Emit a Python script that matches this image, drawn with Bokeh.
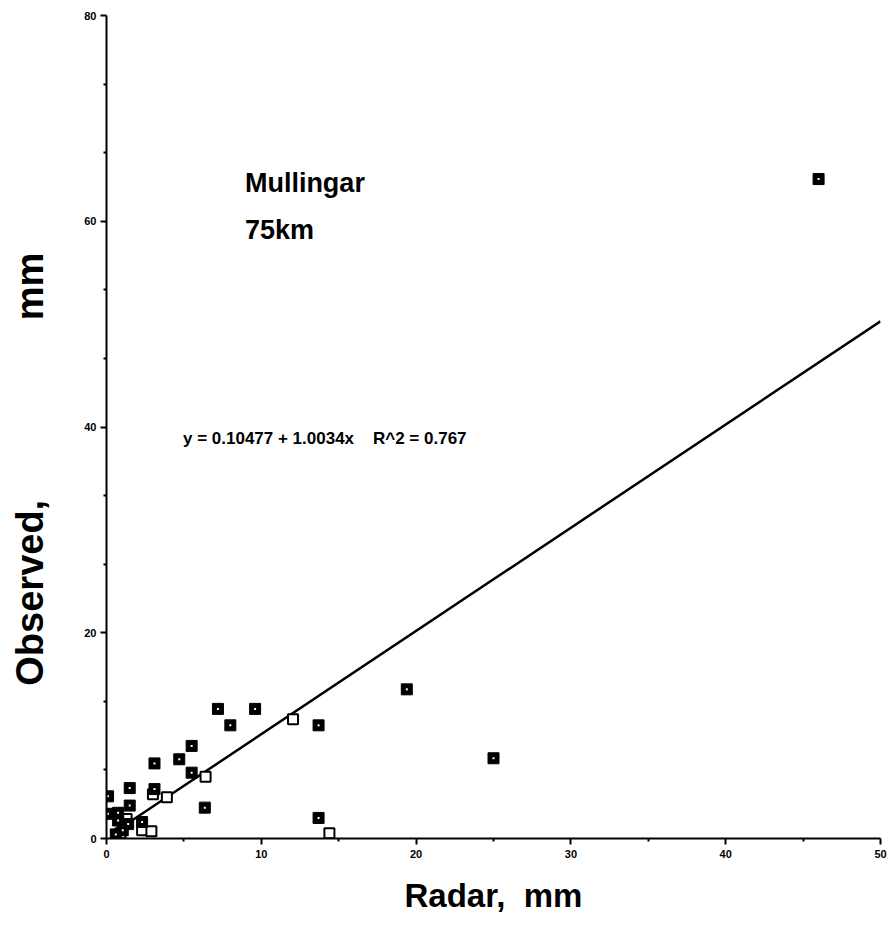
from bokeh.plotting import figure
from bokeh.models import Range1d, FixedTicker, ColumnDataSource
from bokeh.core.properties import value
from bokeh.embed import file_html
from bokeh.resources import INLINE

# Data
filled_x = [46.0, 25.0, 19.4, 13.7, 13.7, 9.6, 7.2, 8.0, 5.5, 4.7, 3.1, 5.5, 6.35,
            1.5, 3.1, 1.5, 0.75, 0.75, 1.4, 2.3, 1.05, 0.6, 0.1, 0.1]
filled_y = [64.1, 7.8, 14.5, 11.0, 2.0, 12.6, 12.6, 11.0, 9.0, 7.7, 7.3, 6.4, 3.0,
            4.9, 4.8, 3.2, 2.5, 1.75, 1.4, 1.6, 0.8, 0.4, 4.1, 2.4]
open_x = [12.05, 6.4, 3.0, 3.9, 2.3, 2.9, 14.4, 1.3, 0.9]
open_y = [11.6, 6.0, 4.3, 4.0, 0.8, 0.7, 0.5, 1.9, 0.5]

intercept = 0.10477
slope = 1.0034
fit_x = [1.3, 50.0]
fit_y = [intercept + slope * v for v in fit_x]

x_ticks = [0, 10, 20, 30, 40, 50]
y_ticks = [0, 20, 40, 60, 80]

title_lines = ["Mullingar", "75km"]
NB = "\u00a0"
equation = "y = 0.10477 + 1.0034x" + NB * 4 + "R^2 = 0.767"

FONT = "Liberation Sans"

p = figure(width=892, height=946, x_range=Range1d(0, 50), y_range=Range1d(0, 80),
           output_backend="svg", toolbar_location=None,
           min_border_left=106, min_border_right=12, min_border_top=15, min_border_bottom=108)
p.outline_line_color = None
p.xgrid.visible = False
p.ygrid.visible = False
p.background_fill_color = "white"
p.border_fill_color = "white"

x_minor = [5, 15, 25, 35, 45]
y_minor = []
for i in range(4):
    for k in (1, 2):
        y_minor.append(i * 20 + k * 20 / 3)
p.xaxis.ticker = FixedTicker(ticks=x_ticks, minor_ticks=x_minor)
p.yaxis.ticker = FixedTicker(ticks=y_ticks, minor_ticks=y_minor)

for ax in (p.xaxis[0], p.yaxis[0]):
    ax.axis_line_width = 2
    ax.axis_line_color = "black"
    ax.major_tick_line_width = 2
    ax.minor_tick_line_width = 2
    ax.major_tick_line_color = "black"
    ax.minor_tick_line_color = "black"
    ax.major_tick_out = 6
    ax.major_tick_in = 0
    ax.minor_tick_out = 3
    ax.minor_tick_in = 0
    ax.major_label_text_font = FONT
    ax.major_label_text_font_style = "bold"
    ax.major_label_text_font_size = "11px"
    ax.major_label_text_color = "black"
    ax.axis_label_text_font = FONT
    ax.axis_label_text_font_style = "bold"
    ax.axis_label_text_color = "black"

p.xaxis.axis_label = "Radar," + NB + " mm"
p.xaxis.axis_label_text_font_size = "33px"
p.xaxis.axis_label_standoff = 16
p.xaxis.major_label_standoff = 5

p.yaxis.axis_label = "Observed," + NB * 17 + "mm" + NB * 8
p.yaxis.axis_label_text_font_size = "38px"
p.yaxis.axis_label_standoff = 30
p.yaxis.major_label_standoff = 4

# regression line
p.line(fit_x, fit_y, line_color="black", line_width=2.5)

# markers
p.scatter(open_x, open_y, marker="square", size=10, fill_color="white",
          line_color="black", line_width=2)
p.scatter(filled_x, filled_y, marker="square", size=11, fill_color="black",
          line_color="black", line_width=1)
p.scatter(filled_x, filled_y, marker="square", size=2, fill_color="white",
          line_color=None)

src_t = ColumnDataSource(dict(x=[8.94, 8.94], y=[65.2, 60.6], t=title_lines))
p.text(x="x", y="y", text="t", source=src_t, text_font=value(FONT),
       text_font_size="27px", text_font_style="bold", text_baseline="top",
       text_align="left", text_color="black")

p.text(x=[4.94], y=[38.9], text=[equation], text_font=value(FONT),
       text_font_size="17px", text_font_style="bold", text_baseline="middle",
       text_align="left", text_color="black")

open("out.html", "w").write(file_html(p, INLINE))
